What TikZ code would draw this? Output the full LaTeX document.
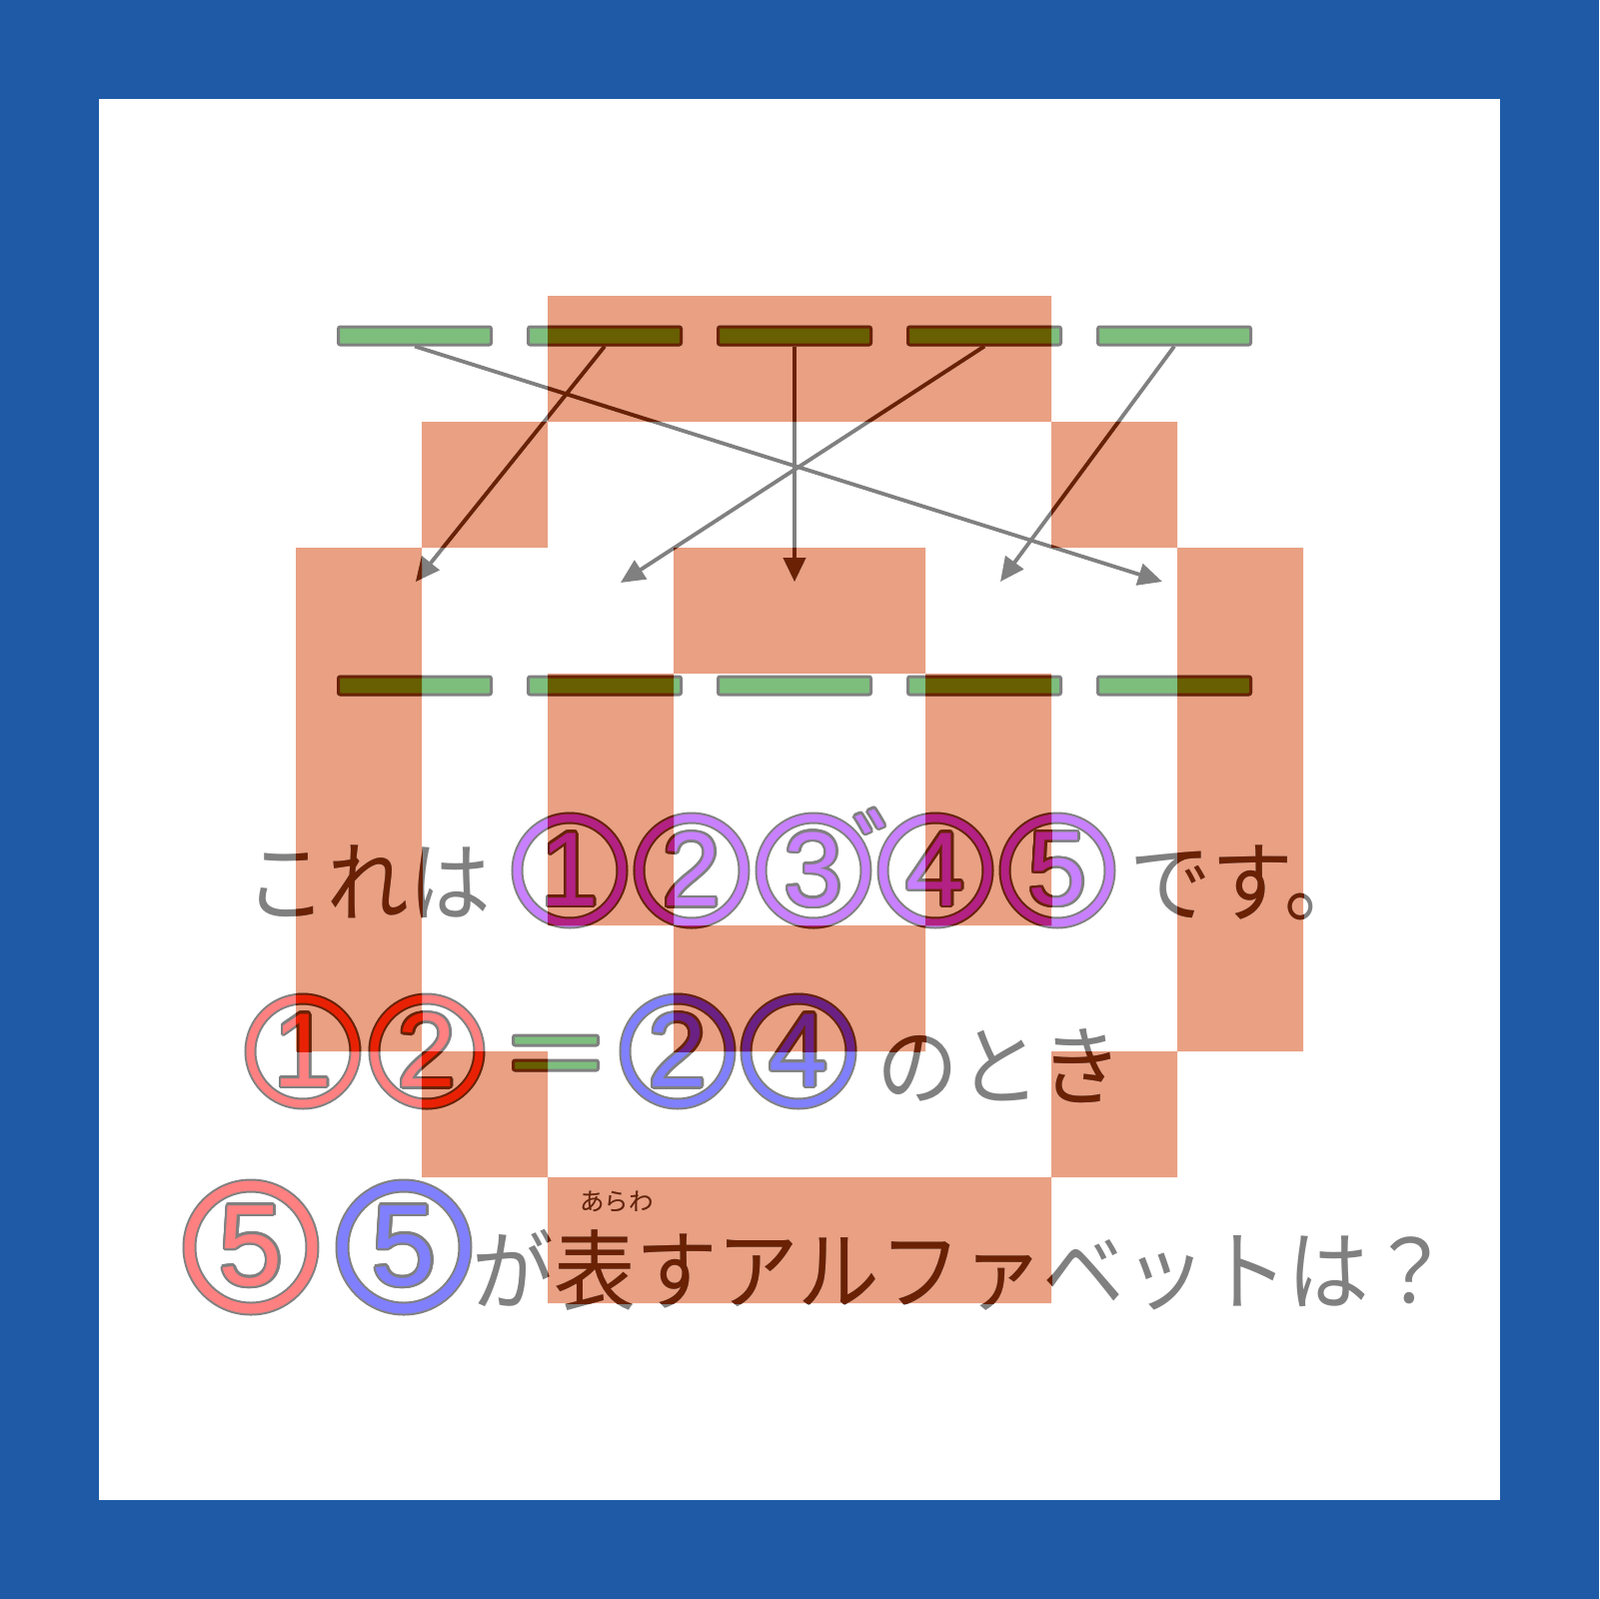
\documentclass[tikz,border=0pt]{standalone}
\usepackage{fontspec}
\usepackage[copies]{contour}
\usetikzlibrary{arrows.meta}
\newfontfamily\jp{Noto Sans CJK JP}
\newfontfamily\numfont{Liberation Sans}
\contourlength{0.7pt}

\definecolor{frameblue}{RGB}{30,90,166}
\definecolor{pixel}{RGB}{233,160,131}
% plain colours
\definecolor{edgegray}{RGB}{128,128,128}
\definecolor{bargreen}{RGB}{125,190,125}
\definecolor{numpurple}{RGB}{200,128,255}
\definecolor{numred}{RGB}{255,128,128}
\definecolor{numblue}{RGB}{128,128,255}
% the same colours where a pixel lies over them
\definecolor{burngray}{RGB}{106,33,4}
\definecolor{burngreen}{RGB}{103,95,1}
\definecolor{burnpurple}{RGB}{178,33,131}
\definecolor{burnred}{RGB}{233,33,4}
\definecolor{burnblue}{RGB}{106,33,131}

\colorlet{cline}{edgegray}
\colorlet{cgreen}{bargreen}
\colorlet{cpurple}{numpurple}
\colorlet{cred}{numred}
\colorlet{cblue}{numblue}

\tikzset{
  bar/.style={draw=cline,fill=cgreen,line width=0.3mm,rounded corners=0.2mm,
    minimum width=15.3mm,minimum height=1.8mm,inner sep=0pt},
  eqbar/.style={bar,minimum width=8.5mm,minimum height=1mm},
  arr/.style={draw=cline,line width=0.38mm,-{Triangle[length=2.4mm,width=2.2mm]}},
  ring/.style={circle,draw=cline,line width=0.2mm,double distance=0.8mm,
    minimum size=10.5mm,inner sep=0pt,font=\numfont\fontsize{30}{30}\selectfont},
  bigring/.style={ring,double distance=1mm,minimum size=12.3mm,
    font=\numfont\fontsize{33}{33}\selectfont},
  txt/.style={font=\jp\fontsize{25}{30}\selectfont,text=cline,inner sep=0pt,
    anchor=base west,xscale=0.93},
  ruby/.style={font=\jp\fontsize{7}{8}\selectfont,text=cline,inner sep=0pt},
}

\newcommand\cdigit[2]{\textcolor{#1}{\contour{cline}{#2}}}
% pixel cells of the letter, column/row
\def\cells{2/0,3/0,4/0,5/0,1/1,6/1,0/2,3/2,4/2,7/2,0/3,2/3,5/3,7/3,
  0/4,2/4,5/4,7/4,0/5,3/5,4/5,7/5,1/6,6/6,2/7,3/7,4/7,5/7}

\newcommand\drawpuzzle{%
  % bars
  \foreach \i in {1,...,5} {
    \node[bar] (t\i) at ({415+190*(\i-1)},336) {};
    \node[bar] (b\i) at ({415+190*(\i-1)},686) {};
  }
  \coordinate (a1) at (416,582);
  \coordinate (a2) at (621,583);
  \coordinate (a3) at (795,582);
  \coordinate (a4) at (1001,582);
  \coordinate (a5) at (1163,582);
  \draw[arr] (t1.south) -- (a5);
  \draw[arr] (t2.south) -- (a1);
  \draw[arr] (t3.south) -- (a3);
  \draw[arr] (t4.south) -- (a2);
  \draw[arr] (t5.south) -- (a4);
  % first line
  \node[txt] (l1a) at (245,915) {これは};
  \foreach \d [count=\k from 0] in {1,...,5}
    \node[ring,double=cpurple] (p\d) at ({570+122*\k},871) {\cdigit{cpurple}{\d}};
  \node[inner sep=0pt,font=\jp\fontsize{30}{30}\selectfont] (dk) at (907,855) {\cdigit{cpurple}{゛}};
  \node[txt] (l1b) at (1130,915) {です。};
  % second line
  \node[ring,double=cred] (r1) at (303,1052) {\cdigit{cred}{1}};
  \node[ring,double=cred] (r2) at (427,1052) {\cdigit{cred}{2}};
  \node[eqbar] (eqa) at (556,1041) {};
  \node[eqbar] (eqb) at (556,1066) {};
  \node[ring,double=cblue] (u2) at (678,1052) {\cdigit{cblue}{2}};
  \node[ring,double=cblue] (u4) at (799,1052) {\cdigit{cblue}{4}};
  \node[txt] (l2) at (877,1099) {のとき};
  % third line
  \node[bigring,double=cred] (r5) at (251,1248) {\cdigit{cred}{5}};
  \node[bigring,double=cblue] (u5) at (404,1248) {\cdigit{cblue}{5}};
  \node[txt] (l3) at (472,1304) {が表すアルファベットは？};
  \node[ruby] (rb) at (617,1203) {あらわ};
}

\begin{document}
\begin{tikzpicture}[x=0.1mm,y=-0.1mm]
\fill[frameblue] (0,0) rectangle (1600,1600);
\fill[white] (99,99) rectangle (1501,1501);
\fill[pixel] \foreach \c/\r in \cells {({296+126*\c},{296+126*\r}) rectangle ++(126,126)};
\drawpuzzle
% what lies under the pixels, darker
\begin{scope}
  \clip \foreach \c/\r in \cells {({296+126*\c},{296+126*\r}) rectangle ++(126,126)};
  \colorlet{cline}{burngray}
  \colorlet{cgreen}{burngreen}
  \colorlet{cpurple}{burnpurple}
  \colorlet{cred}{burnred}
  \colorlet{cblue}{burnblue}
  \drawpuzzle
\end{scope}
\end{tikzpicture}
\end{document}
